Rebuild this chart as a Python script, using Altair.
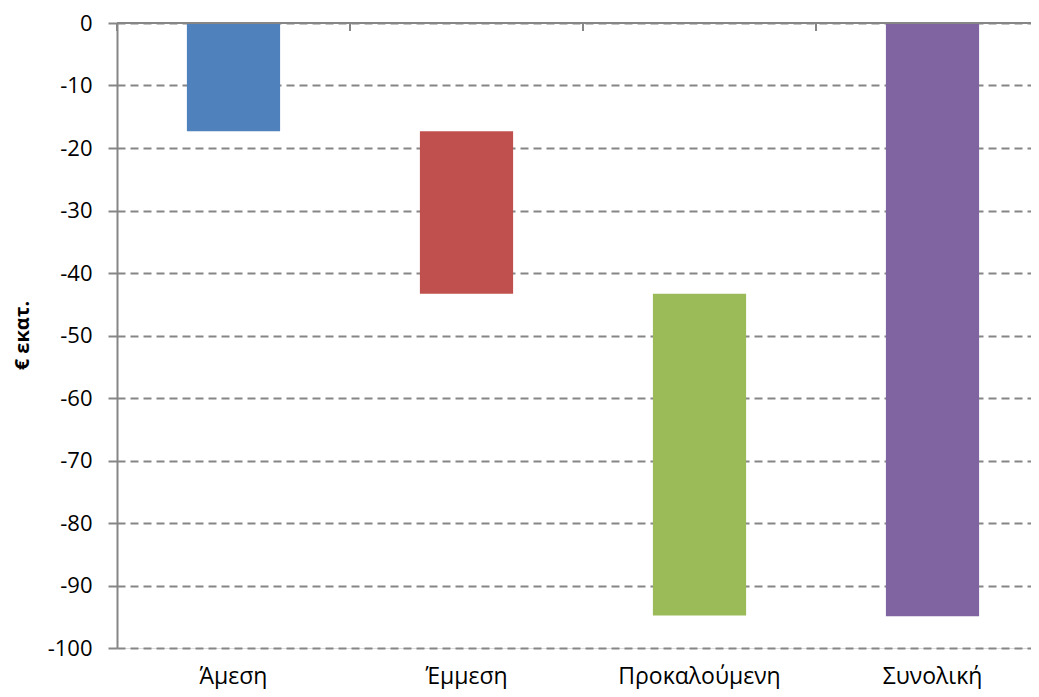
import altair as alt
import pandas as pd

categories = ["Άμεση", "Έμμεση", "Προκαλούμενη", "Συνολική"]
starts = [0, -17.3, -43.3, 0]
ends = [-17.3, -43.3, -94.8, -94.9]
colors = ["#4F81BD", "#C0504D", "#9BBB59", "#8064A2"]
y_ticks = [0, -10, -20, -30, -40, -50, -60, -70, -80, -90, -100]

df = pd.DataFrame({"cat": categories, "start": starts, "end": ends, "color": colors})

FONT = "Open Sans"
GREY = "#868686"

xscale = alt.Scale(domain=categories, range=[0, 932], paddingInner=0, paddingOuter=0)

base = alt.Chart(df)

bars = base.mark_bar(width=alt.RelativeBandSize(0.4)).encode(
    x=alt.X("cat:N", scale=xscale, sort=categories,
            axis=alt.Axis(title=None, orient="bottom", domain=False, ticks=False,
                          tickSize=0, labelPadding=35, labelAngle=0,
                          labelFont=FONT, labelFontSize=23, labelColor="#000000",
                          labelBaseline="alphabetic")),
    y=alt.Y("start:Q", scale=alt.Scale(domain=[-100, 0], nice=False, zero=False),
            axis=alt.Axis(title="€ εκατ.", values=y_ticks, grid=True,
                          labelExpr="'' + datum.value",
                          gridColor=GREY, gridDash=[8, 5], gridWidth=2,
                          domainColor=GREY, domainWidth=2,
                          tickColor=GREY, tickWidth=2, tickSize=9,
                          labelPadding=16, labelFont=FONT, labelFontSize=22,
                          labelColor="#000000",
                          titleFont=FONT, titleFontSize=20, titleFontWeight="bold",
                          titleColor="#000000", titleX=-85, titleY=312,
                          titleAlign="center", titleBaseline="bottom")),
    y2="end:Q",
    color=alt.Color("color:N", scale=None, legend=None),
)

top_line = alt.Chart(df).mark_rule(color=GREY, strokeWidth=2).encode(
    y=alt.datum(0)
)

band_ticks = base.mark_rule(color=GREY, strokeWidth=2).encode(
    x=alt.X("cat:N", scale=xscale, sort=categories, bandPosition=0),
    y=alt.value(0),
    y2=alt.value(8),
)

chart = alt.layer(bars, top_line, band_ticks).properties(
    width=914,
    height=625,
    autosize=alt.AutoSizeParams(type="none"),
    padding={"left": 109, "top": 15, "right": 0, "bottom": 41},
).configure_view(stroke=None).configure(background="#ffffff")

chart.save("out.html", embed_options={"renderer": "svg", "actions": False})
